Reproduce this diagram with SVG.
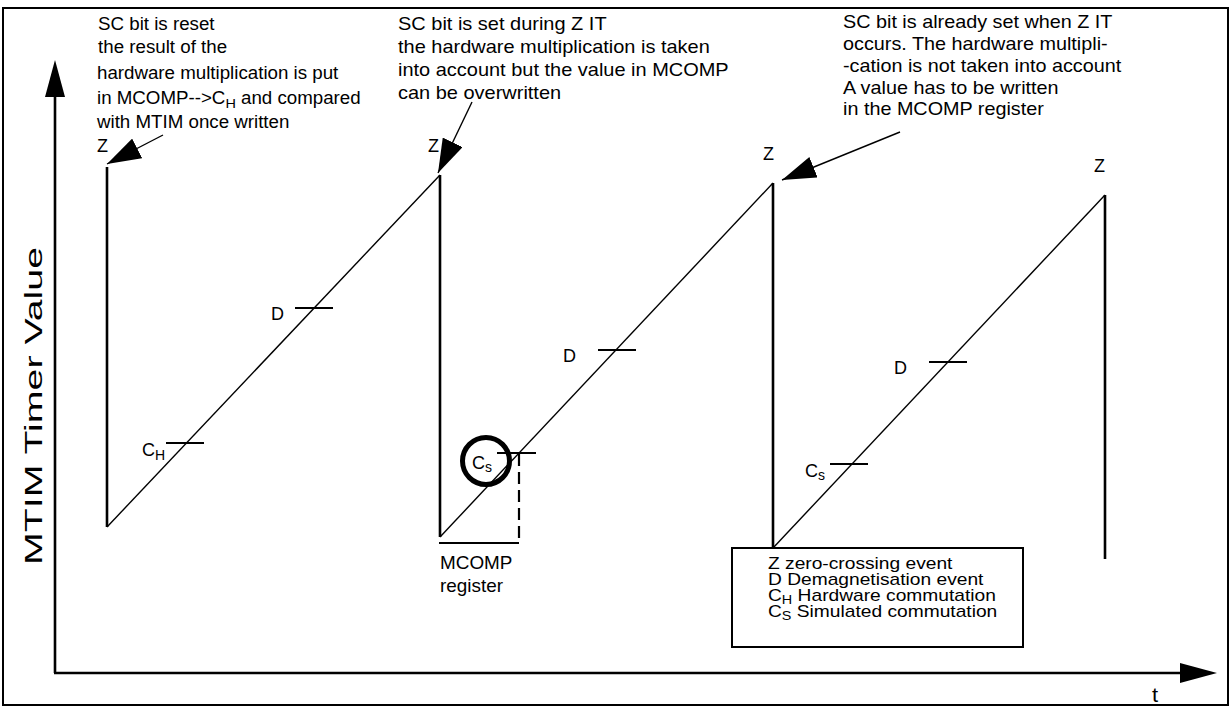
<svg xmlns="http://www.w3.org/2000/svg" width="1232" height="706" viewBox="0 0 1232 706">
<style>
.t{font-family:"Liberation Sans",Arial,sans-serif;fill:#000}
.thick{stroke:#000;stroke-width:2.6;fill:none}
.thin{stroke:#000;stroke-width:1.4;fill:none}
.tick{stroke:#000;stroke-width:2;fill:none}
.conn{stroke:#000;stroke-width:1.4;fill:none;marker-end:url(#ah)}
</style>
<defs>
<marker id="ah" markerUnits="userSpaceOnUse" markerWidth="36" markerHeight="22" refX="34" refY="11" orient="auto">
<path d="M0,0 L34,11 L0,22 z" fill="#000"/>
</marker>
</defs>
<rect width="1232" height="706" fill="#fff"/>
<rect x="3" y="8" width="1225" height="697" fill="none" stroke="#000" stroke-width="2"/>

<g id="axes">
<line x1="55" y1="95" x2="55" y2="673" class="thick"/>
<polygon points="45,97 65,97 55,60" fill="#000"/>
<line x1="54" y1="673" x2="1182" y2="673" class="thick"/>
<polygon points="1180,663 1180,683 1217,673" fill="#000"/>
<text class="t" font-size="20" transform="translate(1152,702) scale(1.1,1)">t</text>
<text class="t" font-size="23" transform="translate(42,565) rotate(-90)" textLength="318" lengthAdjust="spacingAndGlyphs">MTIM Timer Value</text>
</g>

<g id="sawtooth">
<line x1="107" y1="167" x2="107" y2="527" class="thick"/>
<line x1="107" y1="527" x2="440" y2="175" class="thin"/>
<line x1="440" y1="175" x2="440" y2="537" class="thick"/>
<line x1="440" y1="537" x2="773" y2="183" class="thin"/>
<line x1="773" y1="183" x2="773" y2="548" class="thick"/>
<line x1="773" y1="548" x2="1105" y2="195" class="thin"/>
<line x1="1105" y1="195" x2="1105" y2="559" class="thick"/>
</g>

<g id="z-labels">
<text class="t" font-size="18" x="97" y="152">Z</text>
<text class="t" font-size="18" x="428" y="152">Z</text>
<text class="t" font-size="18" x="763" y="160">Z</text>
<text class="t" font-size="18" x="1094" y="172">Z</text>
</g>

<g id="event-ticks">
<line x1="166" y1="443" x2="204" y2="443" class="tick"/>
<text class="t" font-size="18" x="142" y="456">C<tspan font-size="14" dy="4">H</tspan></text>
<line x1="295" y1="308" x2="333" y2="308" class="tick"/>
<text class="t" font-size="18" x="271" y="320">D</text>
<line x1="598" y1="350" x2="636" y2="350" class="tick"/>
<text class="t" font-size="18" x="563" y="362">D</text>
<line x1="929" y1="362" x2="967" y2="362" class="tick"/>
<text class="t" font-size="18" x="894" y="374">D</text>
<line x1="830" y1="464" x2="868" y2="464" class="tick"/>
<text class="t" font-size="18" x="805" y="477">C<tspan font-size="14" dy="3">s</tspan></text>
</g>

<g id="mcomp-register">
<line x1="497" y1="453" x2="536" y2="453" class="tick"/>
<line x1="519" y1="454" x2="519" y2="543" stroke="#000" stroke-width="2.2" stroke-dasharray="12,6"/>
<line x1="439" y1="543" x2="519" y2="543" class="tick"/>
<circle cx="486" cy="461" r="23.5" fill="none" stroke="#000" stroke-width="5"/>
<text class="t" font-size="18" x="472" y="469">C<tspan font-size="14" dy="3">s</tspan></text>
<text class="t" font-size="17.5" transform="translate(440,0) scale(1.08,1)"><tspan x="0" y="569">MCOMP</tspan><tspan x="0" y="592">register</tspan></text>
</g>

<g id="note1">
<text class="t" font-size="17.5" transform="translate(97,0) scale(1.07,1)">
<tspan x="1" y="30">SC bit is reset</tspan>
<tspan x="1" y="53">the result of the</tspan>
<tspan x="0" y="79">hardware multiplication is put</tspan>
<tspan x="0" y="104">in MCOMP--&gt;C<tspan font-size="13.5" dy="4">H</tspan><tspan dy="-4"> and compared</tspan></tspan>
<tspan x="0" y="128">with MTIM once written</tspan>
</text>
</g>

<g id="note2">
<text class="t" font-size="18" transform="translate(398,0) scale(1.11,1)">
<tspan x="0" y="30">SC bit is set during Z IT</tspan>
<tspan x="0" y="53">the hardware multiplication is taken</tspan>
<tspan x="0" y="76">into account but the value in MCOMP</tspan>
<tspan x="0" y="99">can be overwritten</tspan>
</text>
</g>

<g id="note3">
<text class="t" font-size="18" transform="translate(843,0) scale(1.1,1)">
<tspan x="0" y="28">SC bit is already set when Z IT</tspan>
<tspan x="0" y="50">occurs. The hardware multipli-</tspan>
<tspan x="0" y="72">-cation is not taken into account</tspan>
<tspan x="0" y="94">A value has to be written</tspan>
<tspan x="0" y="115">in the MCOMP register</tspan>
</text>
</g>

<g id="connectors">
<line x1="163" y1="135" x2="107" y2="164" class="conn"/>
<line x1="472" y1="102" x2="438" y2="173" class="conn"/>
<line x1="900" y1="132" x2="782" y2="180" class="conn"/>
</g>

<g id="legend">
<rect x="732" y="548" width="291" height="99" fill="#fff" stroke="#000" stroke-width="2"/>
<text class="t" font-size="16" transform="translate(768,0) scale(1.2,1)">
<tspan x="0" y="569">Z zero-crossing event</tspan>
<tspan x="0" y="585">D Demagnetisation event</tspan>
<tspan x="0" y="601">C<tspan font-size="12" dy="3">H</tspan><tspan dy="-3"> Hardware commutation</tspan></tspan>
<tspan x="0" y="617">C<tspan font-size="12" dy="3">S</tspan><tspan dy="-3"> Simulated commutation</tspan></tspan>
</text>
</g>
</svg>
